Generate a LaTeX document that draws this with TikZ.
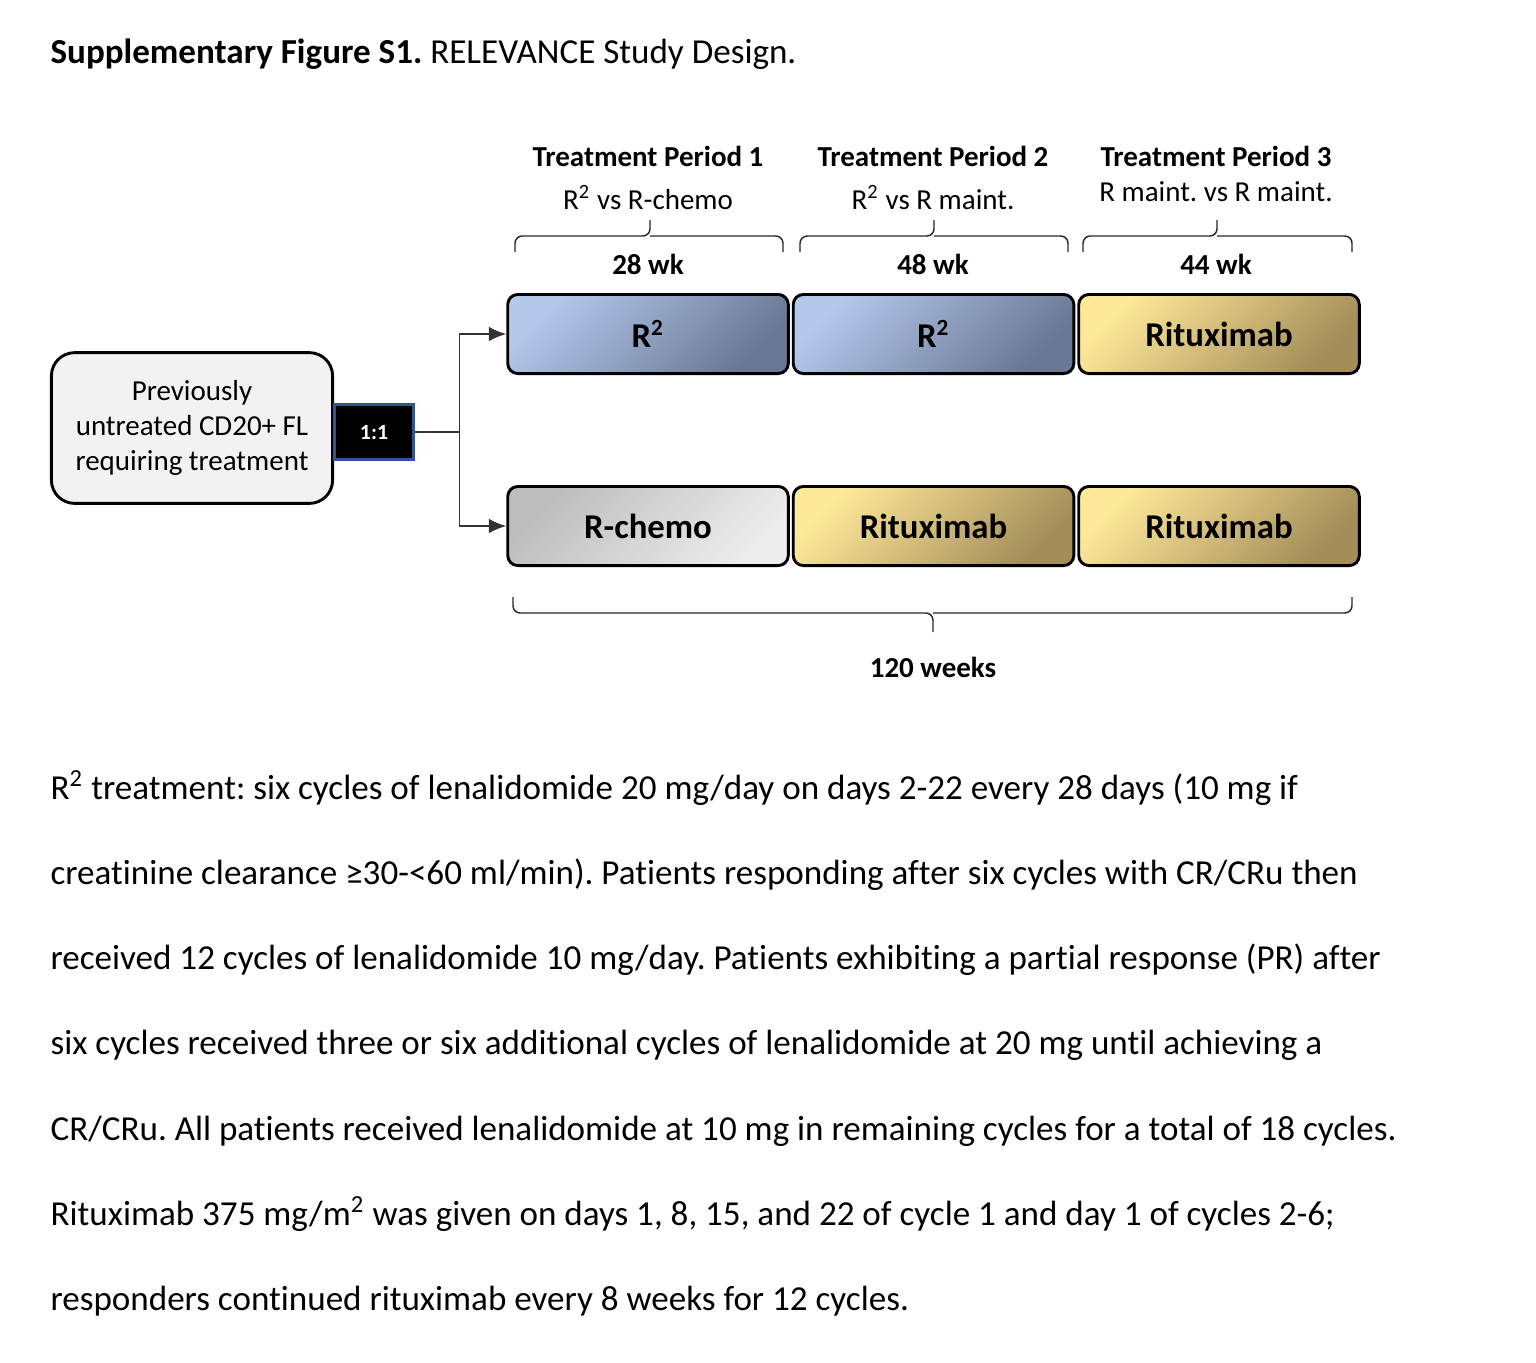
\documentclass[tikz,border=0pt]{standalone}
\usepackage{fontspec}
\setmainfont{Carlito}[Ligatures={NoCommon}]
\frenchspacing
\usetikzlibrary{positioning,arrows.meta}
\definecolor{blueA}{HTML}{B4C8EC}
\definecolor{blueB}{HTML}{6A7792}
\definecolor{goldA}{HTML}{FEE99A}
\definecolor{goldB}{HTML}{A38D59}
\definecolor{greyA}{HTML}{BDBDBD}
\definecolor{greyB}{HTML}{EDEDED}
\definecolor{greyC}{HTML}{F2F2F2}
\definecolor{frameblue}{HTML}{2F5597}
\begin{document}
\begin{tikzpicture}[x=0.345pt,y=-0.345pt,node distance=0.7pt,
	arm/.style={draw, line width=1pt, rounded corners=3.5pt, minimum width=96.8pt, minimum height=27.3pt, font=\fontsize{12}{14}\selectfont\bfseries},
	r2fill/.style={top color=blueA, bottom color=blueB, shading angle=45},
	ritfill/.style={top color=goldA, bottom color=goldB, shading angle=45},
	chemofill/.style={top color=greyA, bottom color=greyB, shading angle=45},
	hdr/.style={anchor=base, inner sep=0pt, font=\fontsize{10}{12}\selectfont\bfseries},
	sub/.style={anchor=base, inner sep=0pt, font=\fontsize{10}{12}\selectfont},
	para/.style={anchor=base west, inner sep=0pt, font=\fontsize{12.1}{14}\selectfont},
	bracket/.style={draw=black!85, line width=0.5pt, rounded corners=2.5pt},
	link/.style={draw=black!80, line width=0.5pt}]
	\useasboundingbox (0,0) rectangle (1536,1362);
	\node[para] (caption) at (50,63) {\textbf{Supplementary Figure S1.} RELEVANCE Study Design.};
	% periods
	\node[hdr] (tp1) at (648,166) {Treatment Period 1};
	\node[hdr] (tp2) at (933,166) {Treatment Period 2};
	\node[hdr] (tp3) at (1216,166) {Treatment Period 3};
	\node[sub] (cmp1) at (648,209) {R\textsuperscript{2} vs R-chemo};
	\node[sub] (cmp2) at (933,209) {R\textsuperscript{2} vs R maint.};
	\node[sub] (cmp3) at (1216,201) {R maint. vs R maint.};
	\foreach \a/\b/\c in {515/783/650, 800/1068/934, 1083/1352/1217} {
		\draw[bracket] (\a,252) |- (\c,236) -- (\c,220);
		\draw[bracket] (\b,252) |- (\c,236);
	}
	\node[hdr] (wk1) at (648,274) {28 wk};
	\node[hdr] (wk2) at (933,274) {48 wk};
	\node[hdr] (wk3) at (1216,274) {44 wk};
	% arms
	\node[arm, r2fill] (r2a) at (648,334) {R\textsuperscript{2}};
	\node[arm, r2fill, right=of r2a] (r2b) {R\textsuperscript{2}};
	\node[arm, ritfill, right=of r2b] (ritA) {Rituximab};
	\node[arm, chemofill] (chemo) at (648,526) {R-chemo};
	\node[arm, ritfill, right=of chemo] (ritB) {Rituximab};
	\node[arm, ritfill, right=of ritB] (ritC) {Rituximab};
	\node[draw, line width=1pt, rounded corners=8pt, fill=greyC, minimum width=97pt, minimum height=52pt, align=center, font=\fontsize{10}{12.2}\selectfont] (pts) at (192,428) {Previously\\untreated CD20+ FL\\requiring treatment};
	\node[draw=frameblue, fill=black, text=white, line width=1pt, minimum width=27pt, minimum height=19pt, font=\fontsize{7.5}{9}\selectfont\bfseries] (ratio) at (374,432) {1:1};
	\draw[link] (ratio.east) -- ++(45,0) coordinate (fork);
	\draw[link, -{Latex[length=6pt,width=5pt]}] (fork) |- (r2a.west);
	\draw[link, -{Latex[length=6pt,width=5pt]}] (fork) |- (chemo.west);
	\draw[bracket] (513,597) |- (933,613) -- (933,632);
	\draw[bracket] (1352,597) |- (933,613);
	\node[hdr] (total) at (933,677) {120 weeks};
	% notes
	\foreach \txt [count=\i from 0] in {
		{R\textsuperscript{2} treatment: six cycles of lenalidomide 20 mg/day on days 2-22 every 28 days (10 mg if},
		{creatinine clearance ≥30-<60 ml/min). Patients responding after six cycles with CR/CRu then},
		{received 12 cycles of lenalidomide 10 mg/day. Patients exhibiting a partial response (PR) after},
		{six cycles received three or six additional cycles of lenalidomide at 20 mg until achieving a},
		{CR/CRu. All patients received lenalidomide at 10 mg in remaining cycles for a total of 18 cycles.},
		{Rituximab 375 mg/m\textsuperscript{2} was given on days 1, 8, 15, and 22 of cycle 1 and day 1 of cycles 2-6;},
		{responders continued rituximab every 8 weeks for 12 cycles.}}
		\node[para] (note\i) at (50,799+85.3*\i) {\txt};
\end{tikzpicture}
\end{document}
